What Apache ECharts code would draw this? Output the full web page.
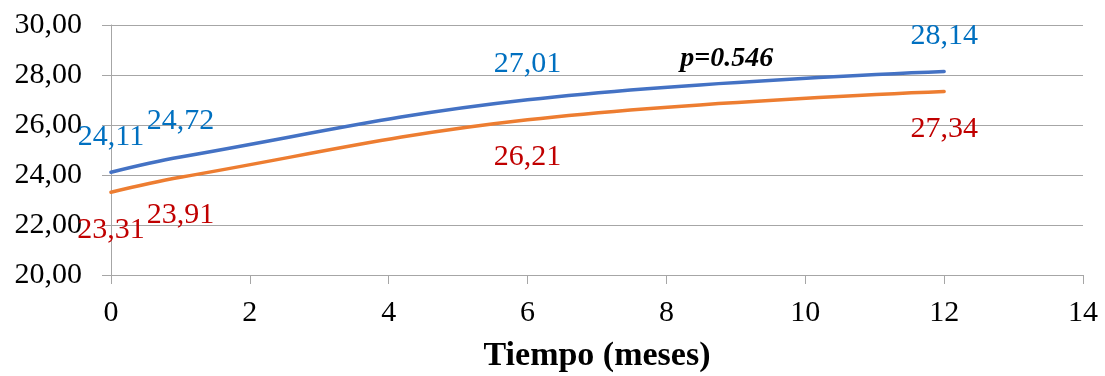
<!DOCTYPE html>
<html>
<head>
<meta charset="utf-8">
<script src="https://cdn.jsdelivr.net/npm/echarts@6/dist/echarts.min.js"></script>
<style>
html,body{margin:0;padding:0;background:#fff;}
#chart{width:1105px;height:376px;}
</style>
</head>
<body>
<div id="chart"></div>
<script>
var months = [0, 1, 6, 12];
var seriesBlue = [24.11, 24.72, 27.01, 28.14];
var seriesOrange = [23.31, 23.91, 26.21, 27.34];
var xTicks = [0, 2, 4, 6, 8, 10, 12, 14];
var yTicks = [20, 22, 24, 26, 28, 30];
var xTitle = 'Tiempo (meses)';
var pText = 'p=0.546';
var pPos = [8.87, 28.66];

function fmt(v){ return v.toFixed(2).replace('.', ','); }
function pairs(xs, ys){ return xs.map(function(x,i){ return [x, ys[i]]; }); }

var FONT = 'Liberation Serif';
var chart = echarts.init(document.getElementById('chart'));
chart.setOption({
  animation: false,
  backgroundColor: '#ffffff',
  grid: {left: 111, right: 22, top: 25, bottom: 101, containLabel: false, outerBoundsMode: 'none'},
  xAxis: {
    type: 'value', min: xTicks[0], max: xTicks[xTicks.length-1], interval: 2,
    name: xTitle, nameLocation: 'middle', nameGap: 64,
    nameTextStyle: {fontFamily: FONT, fontSize: 34, fontWeight: 'bold', color: '#000', verticalAlign: 'top', lineHeight: 34},
    axisLine: {show: true, lineStyle: {color: '#a6a6a6', width: 1}},
    axisTick: {show: true, length: 9, lineStyle: {color: '#a6a6a6'}},
    axisLabel: {fontFamily: FONT, fontSize: 30, color: '#000', margin: 23},
    splitLine: {show: false}
  },
  yAxis: {
    type: 'value', min: yTicks[0], max: yTicks[yTicks.length-1], interval: 2,
    axisLine: {show: true, lineStyle: {color: '#a6a6a6', width: 1}},
    axisTick: {show: true, length: 9, lineStyle: {color: '#a6a6a6'}},
    axisLabel: {fontFamily: FONT, fontSize: 30, color: '#000', margin: 29, formatter: fmt},
    splitLine: {show: true, lineStyle: {color: '#a6a6a6', width: 1}}
  },
  series: [
    {
      type: 'line', smooth: 0.4, symbol: 'circle', symbolSize: 1, showSymbol: true,
      data: pairs(months, seriesBlue),
      lineStyle: {color: '#4472C4', width: 3.5, cap: 'round'},
      itemStyle: {color: 'rgba(0,0,0,0)', borderWidth: 0},
      label: {show: true, position: 'top', distance: 20, fontFamily: FONT, fontSize: 30, color: '#0070C0',
        formatter: function(p){ return fmt(p.value[1]); }},
      markPoint: {
        symbol: 'circle', symbolSize: 0,
        data: [{coord: pPos, value: pText}],
        label: {show: true, position: 'inside', fontFamily: FONT, fontSize: 28, fontWeight: 'bold', fontStyle: 'italic', color: '#000',
          formatter: pText}
      },
      z: 3
    },
    {
      type: 'line', smooth: 0.4, symbol: 'circle', symbolSize: 1, showSymbol: true,
      data: pairs(months, seriesOrange),
      lineStyle: {color: '#ED7D31', width: 3.5, cap: 'round'},
      itemStyle: {color: 'rgba(0,0,0,0)', borderWidth: 0},
      label: {show: true, position: 'bottom', distance: 22, fontFamily: FONT, fontSize: 30, color: '#C00000',
        formatter: function(p){ return fmt(p.value[1]); }},
      z: 2
    }
  ]
});
</script>
</body>
</html>
